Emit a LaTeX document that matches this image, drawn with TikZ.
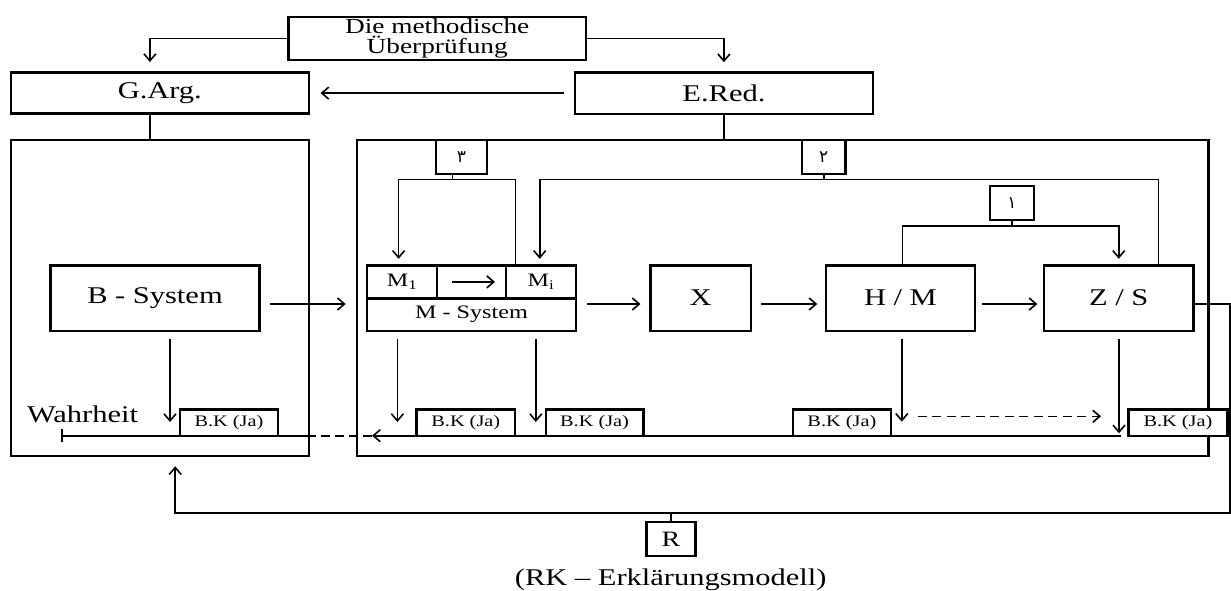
\documentclass[tikz,border=0pt]{standalone}
\usepackage{fontspec}
\setmainfont{Liberation Serif}[FakeStretch=1.27]
\newfontfamily\arabicfont[Script=Arabic]{DejaVu Sans}
\usetikzlibrary{arrows.meta}
\begin{document}
\begin{tikzpicture}[x=1pt,y=-1pt,
  box/.style={draw, line width=2.4pt, fill=white, inner sep=0pt, align=center},
  conn/.style={line width=1.6pt},
  arr/.style={conn, -{Straight Barb[length=7pt,width=12pt]}},
  fL/.style={font=\fontsize{24}{26}\selectfont},
  fR/.style={font=\fontsize{22}{24}\selectfont},
  fT/.style={font=\fontsize{21.5}{20.5}\selectfont},
  fM/.style={font=\fontsize{19}{21}\selectfont},
  fS/.style={font=\fontsize{16}{18}\selectfont},
  fA/.style={font=\fontsize{17}{19}\selectfont\arabicfont},
]
\useasboundingbox (0,0) rectangle (1231,590);

% big frames
\node[box, minimum width=298pt, minimum height=315.7pt] (lbox) at (159.8,297.9) {};
\node[box, minimum width=851.5pt, minimum height=315.7pt] (rbox) at (782.8,297.9) {};

% upper boxes
\node[box, fT, minimum width=297.7pt, minimum height=43.3pt] (top) at (437.2,38.4) {Die methodische\\Überprüfung};
\node[box, fL, minimum width=298pt, minimum height=41pt] (garg) at (159.8,93.1) {G.Arg.};
\node[box, fL, minimum width=297.8pt, minimum height=41.4pt] (ered) at (723.9,93.1) {E.Red.};

% numbered boxes
\node[box, fA, minimum width=51pt, minimum height=34pt] (n3) at (461.5,157) {٣};
\node[box, fA, minimum width=43.5pt, minimum height=34pt] (n2) at (823.8,157) {٢};
\node[box, fA, minimum width=43.5pt, minimum height=34pt] (n1) at (1012,203) {١};

% main row
\node[box, fL, minimum width=209pt, minimum height=65.2pt] (bsys) at (155,298.1) {B - System};
\node[box, fM, minimum width=70pt, minimum height=32.8pt] (m1) at (402,281.9) {M\textsubscript{1}};
\node[box, minimum width=69pt, minimum height=32.8pt] (marr) at (471.5,281.9) {};
\node[box, fM, minimum width=70pt, minimum height=32.8pt] (mi) at (541,281.9) {M\textsubscript{i}};
\node[box, fM, minimum width=209pt, minimum height=32.4pt] (mname) at (471.5,314.5) {M - System};
\node[box, fL, minimum width=100.6pt, minimum height=65.2pt] (xb) at (700.6,298.1) {X};
\node[box, fL, minimum width=149.2pt, minimum height=65.2pt] (hm) at (900.4,298.1) {H / M};
\node[box, fL, minimum width=149.7pt, minimum height=65.2pt] (zs) at (1118.75,298.1) {Z / S};

% R box
\node[box, fR, minimum width=49.1pt, minimum height=34.3pt] (rb) at (670.9,538.9) {R};

% helper coordinates
\coordinate (j3) at (452.5,179.3);
\coordinate (j2) at (823.8,179.3);
\coordinate (j1) at (1012,225.7);
\coordinate (row) at (0,304);
\coordinate (d1) at (170,422);
\coordinate (d2) at (397.4,422);
\coordinate (d3) at (535.8,422);
\coordinate (d4) at (901.8,421.7);
\coordinate (d5) at (1119,433.3);
\coordinate (da) at (917.9,416.3);
\coordinate (db) at (1101,416.3);
\coordinate (b0) at (1121,435.7);
\coordinate (ba) at (372,435.7);
\coordinate (bw) at (61.3,435.7);
\coordinate (fr) at (1229.8,512.7);
\coordinate (fl) at (175.2,512.7);

% top connectors
\draw[arr, shorten >=9.4pt] (top.west) -| ([xshift=-9.9pt]garg.north);
\draw[arr, shorten >=9pt] (top.east) -| (ered.north);
\draw[arr, shorten <=10pt, shorten >=10.5pt] (ered.west) -- (garg.east);
\draw[conn] ([xshift=-9.9pt]garg.south) -- ([xshift=-9.9pt]garg.south |- lbox.north);
\draw[conn] (ered.south) -- (ered.south |- rbox.north);

% numbered branches
\draw[conn] (n3.south -| j3) -- (j3);
\draw[arr, shorten >=5.5pt] (j3) -| ([xshift=-3.4pt]m1.north);
\draw[conn] (j3) -| ([xshift=10.8pt]mi.north west);
\draw[conn] (n2.south) -- (j2);
\draw[arr, shorten >=5.5pt] (j2) -| ([xshift=-1.3pt]mi.north);
\draw[conn] (j2) -| ([xshift=39.85pt]zs.north);
\draw[conn] (n1.south) -- (j1);
\draw[conn] (j1) -| ([xshift=2.2pt]hm.north);
\draw[arr, shorten >=5.5pt] (j1) -| (zs.north);

% inner arrow of M cells
\draw[arr] ([xshift=-19.5pt]marr.center) -- ([xshift=23.5pt]marr.center);

% main row arrows
\draw[arr, shorten <=9.5pt, shorten >=10.2pt] (bsys.east |- row) -- (rbox.west |- row);
\draw[arr, shorten <=9.7pt, shorten >=8.6pt] (mname.east |- row) -- (xb.west |- row);
\draw[arr, shorten <=9.3pt, shorten >=7.3pt] (xb.east |- row) -- (hm.west |- row);
\draw[arr, shorten <=5.7pt, shorten >=5.3pt] (hm.east |- row) -- (zs.west |- row);

% down arrows
\draw[arr, shorten <=7pt] (bsys.south -| d1) -- (d1);
\draw[arr, shorten <=7pt] (mname.south -| d2) -- (d2);
\draw[arr, shorten <=7pt] (mname.south -| d3) -- (d3);
\draw[arr, shorten <=7pt] (hm.south -| d4) -- (d4);
\draw[arr, shorten <=7pt] (zs.south -| d5) -- (d5);

% dashed arrow
\draw[arr, dash pattern=on 9pt off 5.5pt] (da) -- (db);

% bottom line
\draw[arr] (b0) -- (ba);
\draw[conn, dash pattern=on 9pt off 5pt] (ba) -- (lbox.east |- ba);
\draw[conn, -{Bar[width=13pt]}] (lbox.east |- ba) -- (bw);

% feedback loop
\draw[arr, shorten >=9.3pt] (zs.east |- row) -| (fr) -- (fl) -- (fl |- lbox.south);
\draw[conn] (rb.north) -- (rb.north |- fl);

% B.K boxes
\node[box, fS, minimum width=98pt, minimum height=26.2pt] (bk1) at (229,422.6) {B.K (Ja)};
\node[box, fS, minimum width=98.8pt, minimum height=26.2pt] (bk2) at (465.8,422.6) {B.K (Ja)};
\node[box, fS, minimum width=97.8pt, minimum height=26.2pt] (bk3) at (594.6,422.6) {B.K (Ja)};
\node[box, fS, minimum width=98.2pt, minimum height=26.2pt] (bk4) at (841.9,422.6) {B.K (Ja)};
\node[box, fS, minimum width=99.1pt, minimum height=26.2pt] (bk5) at (1178,422.6) {B.K (Ja)};

% texts
\node[fL, anchor=base, inner sep=0pt] (wahr) at (82.5,422.3) {Wahrheit};
\node[fL, anchor=base, inner sep=0pt] (rk) at (670.7,585) {(RK – Erklärungsmodell)};
\end{tikzpicture}
\end{document}
